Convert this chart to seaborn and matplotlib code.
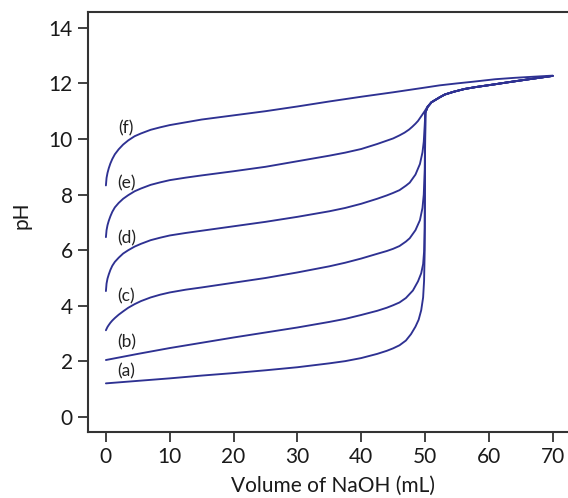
import matplotlib
matplotlib.use("Agg")
import matplotlib.pyplot as plt
import seaborn as sns

# pH, volume of NaOH in mL
vol_a = [0, 5, 10, 15, 20, 25, 30, 35, 37.5, 40, 42.5, 44, 45, 46, 47, 47.8, 48.5, 49, 49.4, 49.7, 49.85, 49.95,
         50.0, 50.05, 50.4]
ph_a = [1.21, 1.3, 1.39, 1.49, 1.58, 1.68, 1.79, 1.93, 2.01, 2.12, 2.27, 2.38, 2.47, 2.58, 2.75, 2.98, 3.25, 3.5, 3.84,
        4.3, 4.9, 6.0, 9.5, 10.95, 11.15]

vol_b = [0, 5, 10, 15, 20, 25, 30, 35, 37.5, 40, 42.5, 44, 45, 46, 47, 48.1, 48.9, 49.4, 49.7, 49.85, 49.95, 50.0,
         50.05, 50.4]
ph_b = [2.05, 2.27, 2.48, 2.67, 2.86, 3.04, 3.22, 3.42, 3.53, 3.67, 3.82, 3.93, 4.02, 4.12, 4.28, 4.55, 4.88, 5.17,
        5.5, 5.95, 6.8, 9.5, 10.95, 11.15]

vol_c = [0, 0.1, 0.25, 0.45, 0.7, 1.0, 1.4, 2.0, 2.7, 3.5, 4.5, 5.5, 7, 8.5, 10, 12.5, 15, 20, 25, 30, 35, 37.5, 40,
         42.5, 44, 45, 46, 47, 47.6, 48.5, 49.2, 49.6, 49.8, 49.95, 50.0, 50.05, 50.4]
ph_c = [3.12, 3.17, 3.24, 3.31, 3.39, 3.47, 3.56, 3.68, 3.8, 3.93, 4.06, 4.17, 4.3, 4.4, 4.48, 4.58, 4.66, 4.83, 5.0,
        5.2, 5.42, 5.55, 5.7, 5.87, 5.97, 6.05, 6.15, 6.31, 6.43, 6.72, 7.08, 7.52, 8.0, 8.9, 10.0, 10.95, 11.15]

vol_d = [0, 0.1, 0.25, 0.45, 0.7, 1.0, 1.4, 2.0, 2.7, 3.5, 4.5, 5.5, 7, 8.5, 10, 12.5, 15, 20, 25, 30, 35, 37.5, 40,
         42.5, 44, 45, 46, 47, 47.6, 48.5, 49.2, 49.6, 49.8, 49.95, 50.05, 50.4]
ph_d = [4.53, 4.8, 4.98, 5.13, 5.29, 5.44, 5.58, 5.73, 5.88, 6.0, 6.13, 6.23, 6.36, 6.45, 6.53, 6.62, 6.7, 6.86, 7.02,
        7.2, 7.4, 7.52, 7.67, 7.85, 7.97, 8.06, 8.16, 8.32, 8.43, 8.72, 9.1, 9.52, 9.9, 10.5, 10.95, 11.15]

vol_e = [0, 0.1, 0.25, 0.45, 0.7, 1.0, 1.4, 2.0, 2.7, 3.5, 4.5, 5.5, 7, 8.5, 10, 12.5, 15, 20, 25, 30, 35, 37.5, 40,
         42.5, 44, 45, 46, 46.8, 47.5, 48, 48.5, 48.9, 49.5, 50.0, 50.4]
ph_e = [6.47, 6.72, 6.9, 7.06, 7.22, 7.38, 7.54, 7.7, 7.85, 7.98, 8.12, 8.22, 8.35, 8.44, 8.52, 8.61, 8.69, 8.84, 9.0,
        9.2, 9.4, 9.51, 9.64, 9.82, 9.94, 10.02, 10.13, 10.23, 10.34, 10.44, 10.55, 10.65, 10.85, 11.02, 11.17]

vol_f = [0, 0.1, 0.25, 0.45, 0.7, 1.0, 1.4, 2.0, 2.7, 3.5, 4.5, 5.5, 7, 8.5, 10, 12.5, 15, 20, 25, 30, 35, 40,
         45, 50, 52.3, 55, 57.5, 61, 64, 67, 70]
ph_f = [8.33, 8.6, 8.78, 8.95, 9.12, 9.28, 9.45, 9.63, 9.8, 9.95, 10.1, 10.2, 10.33, 10.42, 10.5, 10.6, 10.7, 10.85,
        11.0, 11.17, 11.35, 11.52, 11.68, 11.85, 11.93, 12.0, 12.06, 12.15, 12.2, 12.24, 12.28]

# past the equivalence point curves (a)-(e) run together
vol_after = [51, 52.3, 53.1, 54.5, 56.2, 58, 61, 63, 66, 70]
ph_after = [11.32, 11.5, 11.6, 11.7, 11.8, 11.87, 11.97, 12.04, 12.14, 12.27]

labels = ["(a)", "(b)", "(c)", "(d)", "(e)", "(f)"]
label_x = [3.2, 3.2, 3.2, 3.2, 3.2, 3.2]
label_y = [1.63, 2.68, 4.35, 6.41, 8.39, 10.39]

curves = [
    (vol_a + vol_after, ph_a + ph_after),
    (vol_b + vol_after, ph_b + ph_after),
    (vol_c + vol_after, ph_c + ph_after),
    (vol_d + vol_after, ph_d + ph_after),
    (vol_e + vol_after, ph_e + ph_after),
    (vol_f, ph_f),
]

sns.set_style("ticks")
plt.rcParams["font.family"] = ["Lato", "DejaVu Sans"]

fig = plt.figure(figsize=(5.68, 4.98), dpi=100)
ax = fig.add_axes([0.155, 0.1325, 0.845, 0.8435])

line_color = "#2e3192"
for x, y in curves:
    sns.lineplot(x=x, y=y, ax=ax, color=line_color, linewidth=1.35,
                 estimator=None, sort=False)

for lab, lx, ly in zip(labels, label_x, label_y):
    ax.text(lx, ly, lab, fontsize=12.5, color="#222222", ha="center", va="center")

ax.set_xlim(-2.8, 72.4)
ax.set_ylim(-0.54, 14.57)
ax.set_xticks(range(0, 80, 10))
ax.set_yticks(range(0, 16, 2))

for side in ["left", "bottom", "top"]:
    ax.spines[side].set_linewidth(1.5)
    ax.spines[side].set_color("#333333")
ax.spines["right"].set_visible(False)

ax.tick_params(axis="both", direction="out", length=7, width=1.3,
               color="#333333", labelsize=15, labelcolor="#1a1a1a", pad=4)

ax.set_xlabel("Volume of NaOH (mL)", fontsize=15, color="#1a1a1a")
ax.set_ylabel("pH", fontsize=15, color="#1a1a1a")
ax.xaxis.set_label_coords(0.51, -0.105)
ax.yaxis.set_label_coords(-0.117, 0.515)

fig.savefig("out.png", dpi=100)
